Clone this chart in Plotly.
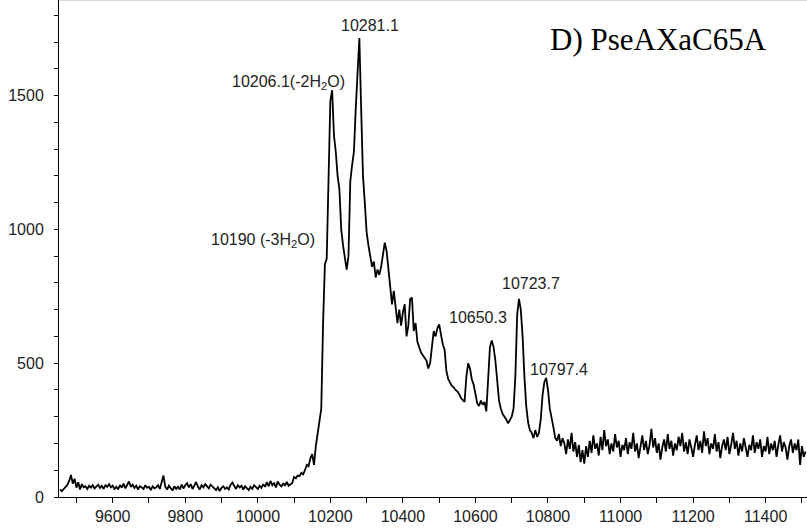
import plotly.graph_objects as go

# ---- data (mass in Da, intensity in counts) ----
baseline_mass = list(range(9455, 10100, 5))
baseline_int = [
    28, 22, 30, 38, 45, 60, 82, 50, 68, 35,
    55, 28, 48, 36, 40, 30, 42, 35, 44, 32,
    40, 46, 34, 42, 30, 44, 38, 48, 36, 42,
    30, 38, 28, 45, 35, 50, 32, 44, 58, 38,
    46, 34, 42, 28, 40, 36, 30, 44, 34, 38,
    26, 40, 32, 36, 44, 30, 52, 80, 38, 28,
    42, 34, 24, 40, 30, 38, 28, 46, 32, 44,
    52, 36, 48, 30, 42, 56, 38, 28, 44, 36,
    48, 40, 32, 46, 38, 30, 26, 36, 22, 34,
    40, 30, 36, 28, 46, 54, 40, 30, 44, 36,
    42, 28, 40, 34, 26, 38, 30, 44, 36, 30,
    42, 34, 48, 38, 56, 40, 60, 44, 52, 36,
    58, 46, 40, 50, 44, 56, 42, 48, 52,
]

peak_mass = list(range(10100, 10825, 5))
peak_int = [
    75, 70, 80, 78, 90, 85, 100, 120, 115, 145,
    160, 120, 190, 240, 290, 330, 650, 870, 890, 1250,
    1480, 1520, 1350, 1290, 1200, 1150, 1000, 940, 900, 850,
    900, 1180, 1240, 1290, 1450, 1600, 1715, 1450, 1200, 1100,
    990, 940, 900, 860, 880, 820, 850, 830, 860, 900,
    950, 920, 860, 780, 720, 770, 700, 650, 700, 640,
    690, 720, 600, 640, 740, 745, 620, 650, 580, 560,
    540, 530, 520, 510, 480, 500, 560, 620, 600, 630,
    645, 600, 570, 550, 470, 440, 430, 415, 410, 400,
    395, 385, 370, 360, 355, 450, 500, 480, 440, 420,
    380, 350, 340, 360, 345, 355, 320, 450, 560, 585,
    560, 510, 430, 360, 330, 310, 300, 290, 275, 290,
    300, 330, 450, 680, 740, 700, 600, 450, 340, 280,
    250, 240, 220, 250, 225, 240, 290, 380, 430, 445,
    400, 330, 300, 260, 220,
]

tail_mass = list(range(10825, 11515, 5))
tail_int = [
    210, 235, 190, 220, 200, 160, 215, 180, 240, 170,
    205, 150, 195, 130, 175, 125, 190, 150, 210, 165,
    230, 180, 200, 155, 225, 175, 250, 190, 215, 160,
    200, 170, 235, 185, 210, 150, 195, 175, 220, 160,
    205, 180, 240, 170, 200, 145, 190, 230, 175, 210,
    160, 195, 255, 185, 220, 165, 200, 140, 185, 215,
    170, 235, 180, 210, 155, 200, 175, 225, 190, 240,
    170, 205, 160, 215, 185, 150, 195, 230, 175, 210,
    165, 245, 190, 220, 160, 200, 180, 235, 170, 205,
    145, 190, 215, 175, 225, 160, 195, 240, 180, 210,
    155, 200, 170, 220, 185, 150, 195, 175, 230, 165,
    205, 180, 215, 150, 190, 170, 225, 160, 200, 175,
    210, 150, 195, 230, 170, 205, 185, 140, 190, 215,
    165, 200, 175, 215, 120, 190, 150, 170,
]

peak_labels = ["10281.1", "10206.1(-2H<sub>2</sub>O)", "10190 (-3H<sub>2</sub>O)",
               "10650.3", "10723.7", "10797.4"]
label_x = [10309, 10246, 10163, 10606, 10752, 10829]
label_y = [1763, 1550, 960, 669, 799, 478]
label_anchor = ["center", "right", "right", "center", "center", "center"]

panel_title = "D) PseAXaC65A"

x_tickvals = [9600, 9800, 10000, 10200, 10400, 10600, 10800, 11000, 11200, 11400]
x_ticktext = ["9600", "9800", "10000", "10200", "10400", "10600", "10800",
              "11000", "11200", "11400"]
y_tickvals = [0, 500, 1000, 1500]
y_ticktext = ["0", "500", "1000", "1500"]

mass = baseline_mass + peak_mass + tail_mass
intensity = baseline_int + peak_int + tail_int
assert len(mass) == len(intensity)

fig = go.Figure()
fig.add_trace(go.Scatter(x=mass, y=intensity, mode="lines",
                         line=dict(color="black", width=1.8),
                         showlegend=False, hoverinfo="skip"))

axis_font = dict(family="Arial, Liberation Sans, sans-serif", size=16, color="#222")

for txt, xv, yv, anc in zip(peak_labels, label_x, label_y, label_anchor):
    fig.add_annotation(x=xv, y=yv, text=txt, showarrow=False, xanchor=anc,
                       yanchor="middle", font=axis_font)

fig.add_annotation(x=0.802, y=0.921, xref="paper", yref="paper", text=panel_title,
                   showarrow=False, xanchor="center", yanchor="middle",
                   font=dict(family="Times New Roman, Liberation Serif, serif",
                             size=31, color="black"))

fig.add_shape(type="line", xref="paper", yref="paper", x0=0, x1=1, y0=1, y1=1,
              line=dict(color="#b4b4b4", width=1))

fig.update_layout(
    width=807, height=529,
    margin=dict(l=58.5, r=0, t=0, b=32, pad=0),
    paper_bgcolor="white", plot_bgcolor="white",
    xaxis=dict(range=[9452, 11514], tickvals=x_tickvals, ticktext=x_ticktext,
               showgrid=False, zeroline=False, showline=True, linecolor="black",
               linewidth=1, ticks="outside", ticklen=5, tickcolor="black",
               tickfont=axis_font,
               minor=dict(dtick=100, tick0=9500, ticks="outside", ticklen=5,
                          tickcolor="black", showgrid=False)),
    yaxis=dict(range=[0, 1857], tickvals=y_tickvals, ticktext=y_ticktext,
               showgrid=False, zeroline=False, showline=True, linecolor="black",
               linewidth=1, ticks="outside", ticklen=4, tickcolor="black",
               tickfont=axis_font, ticklabelstandoff=7,
               minor=dict(dtick=100, tick0=0, ticks="outside", ticklen=4,
                          tickcolor="black", showgrid=False)),
)

fig.write_html("out.html")
